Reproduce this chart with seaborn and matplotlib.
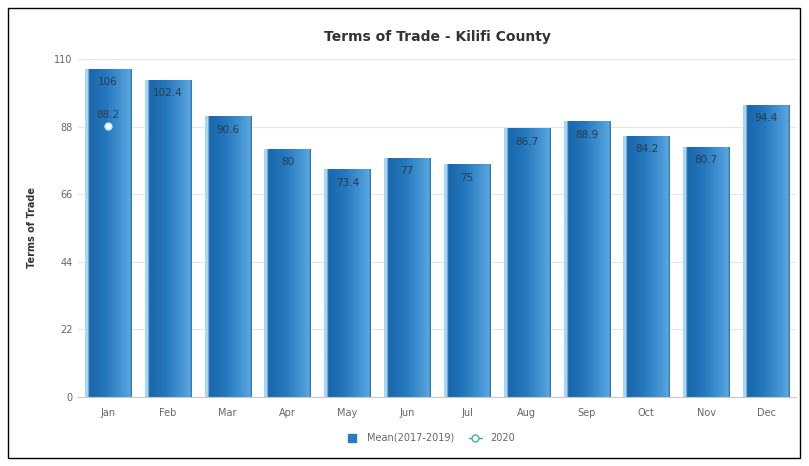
import numpy as np
import pandas as pd
import matplotlib.pyplot as plt
from matplotlib.colors import LinearSegmentedColormap
from matplotlib.patches import Rectangle
from matplotlib.lines import Line2D
import seaborn as sns

months = ['Jan', 'Feb', 'Mar', 'Apr', 'May', 'Jun',
          'Jul', 'Aug', 'Sep', 'Oct', 'Nov', 'Dec']
mean_2017_2019 = [106, 102.4, 90.6, 80, 73.4, 77,
                  75, 86.7, 88.9, 84.2, 80.7, 94.4]
months_2020 = ['Jan']
values_2020 = [88.2]
y_ticks = [0, 22, 44, 66, 88, 110]

df = pd.DataFrame({'month': months, 'tot': mean_2017_2019})

sns.set_style('white')
plt.rcParams['font.family'] = ['DejaVu Sans']

fig = plt.figure(figsize=(8.09, 4.66), dpi=100)
ax = fig.add_axes([78 / 809, 1 - 397 / 466, (796 - 78) / 809, (397 - 59) / 466])

sns.barplot(data=df, x='month', y='tot', ax=ax, width=0.77,
            color='#2a7bc0', saturation=1, zorder=2)

# gradient fill for each bar
grad = LinearSegmentedColormap.from_list(
    'bar', [(0.0, '#a9d6f7'), (0.06, '#a9d6f7'), (0.09, '#1a66aa'),
            (0.45, '#2478bd'), (0.90, '#519fdb'), (0.96, '#5aa6de'),
            (1.0, '#2f6fa8')])
g = np.linspace(0, 1, 200).reshape(1, -1)
for p in ax.patches:
    x, w, h = p.get_x(), p.get_width(), p.get_height()
    p.set_facecolor('none')
    p.set_edgecolor('none')
    ax.imshow(g, extent=[x, x + w, 0, h + 0.6], aspect='auto', cmap=grad,
              zorder=2, interpolation='bilinear')
    ax.text(x + w / 2, h - 3.6, f'{h:g}', ha='center', va='center',
            fontsize=7.5, color='#2b3a4a', zorder=4)

# 2020 series
pos_2020 = [months.index(m) for m in months_2020]
ax.scatter(pos_2020, values_2020, s=22, color='white',
           edgecolor='#cfeefc', linewidth=1.2, zorder=5)
for xp, v in zip(pos_2020, values_2020):
    ax.text(xp, v + 3.5, f'{v:g}', ha='center', va='center',
            fontsize=7.5, color='#2b3a4a', zorder=5)

ax.set_xlim(-0.5, len(months) - 0.5)
ax.set_ylim(0, 110)
ax.set_yticks(y_ticks)
ax.set_yticklabels([str(t) for t in y_ticks])
ax.grid(axis='y', color='#e6e6e6', linewidth=0.8, zorder=0)
ax.set_axisbelow(True)
for s in ['top', 'right', 'left']:
    ax.spines[s].set_visible(False)
ax.spines['bottom'].set_color('#c8c8c8')
ax.tick_params(axis='y', labelsize=7, colors='#666666', length=0, pad=4)
ax.tick_params(axis='x', labelsize=7, colors='#666666', length=0, pad=8)
ax.set_xlabel('')
ax.set_ylabel('Terms of Trade', fontsize=7, color='#333333',
              fontweight='bold', labelpad=12)

fig.text(437 / 809, 1 - 37 / 466, 'Terms of Trade - Kilifi County',
         ha='center', va='center', fontsize=10, fontweight='bold',
         color='#333333')

handles = [
    Line2D([0], [0], marker='s', linestyle='none', markersize=6,
           color='#2a7bc0'),
    Line2D([0], [0], marker='o', linestyle='-', markersize=5,
           markerfacecolor='white', markeredgecolor='#3fb0a0',
           color='#3fb0a0', linewidth=1),
]
fig.legend(handles, ['Mean(2017-2019)', '2020'], loc='center',
           bbox_to_anchor=(430 / 809, 1 - 438 / 466), ncol=2,
           frameon=False, fontsize=7, labelcolor='#666666',
           handlelength=1.4, columnspacing=1.5)

fig.patches.append(Rectangle((8 / 809, 1 - 458 / 466), 792 / 809, 450 / 466,
                             transform=fig.transFigure, fill=False,
                             edgecolor='black', linewidth=1))

plt.savefig('out.png', dpi=100)
